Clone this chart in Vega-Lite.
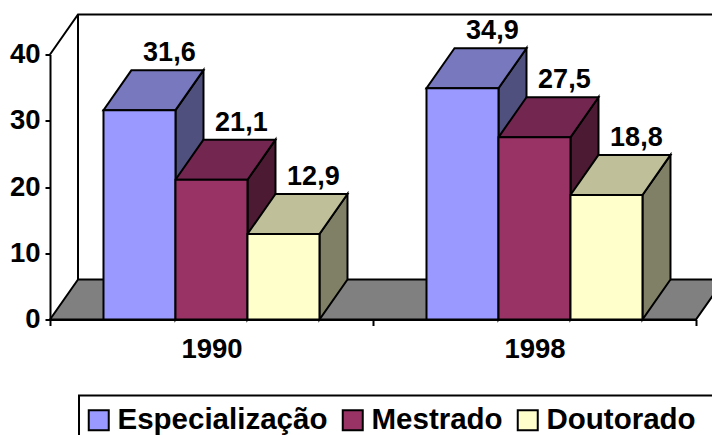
{
  "$schema": "https://vega.github.io/schema/vega-lite/v6.json",
  "width": 646,
  "height": 265,
  "autosize": {"type": "none"},
  "padding": {"left": 50, "top": 54.5, "right": 16, "bottom": 115.5},
  "background": "white",
  "config": {"view": {"stroke": null}, "font": "Liberation Sans"},
  "datasets": {
    "barras": [
      {"ano": "1990", "grupo": 0, "ordem": 0, "serie": "Especialização", "valor": 31.6},
      {"ano": "1990", "grupo": 0, "ordem": 1, "serie": "Mestrado", "valor": 21.1},
      {"ano": "1990", "grupo": 0, "ordem": 2, "serie": "Doutorado", "valor": 12.9},
      {"ano": "1998", "grupo": 1, "ordem": 0, "serie": "Especialização", "valor": 34.9},
      {"ano": "1998", "grupo": 1, "ordem": 1, "serie": "Mestrado", "valor": 27.5},
      {"ano": "1998", "grupo": 1, "ordem": 2, "serie": "Doutorado", "valor": 18.8}
    ],
    "chao": [
      {"py": 0, "x0": 0, "x1": 2},
      {"py": 6.04, "x0": 0.0867, "x1": 2.0867}
    ],
    "parede": [
      {"px": 0, "py": 40},
      {"px": 0.0867, "py": 46.04},
      {"px": 2.0867, "py": 46.04}
    ],
    "fundo": [
      {"px": 0.0867, "py": 46.04},
      {"px": 0.0867, "py": 6.04}
    ]
  },
  "layer": [
    {
      "data": {"name": "chao"},
      "mark": {"type": "area", "orient": "horizontal", "fill": "#808080", "stroke": "black", "strokeWidth": 2},
      "encoding": {
        "y": {"field": "py", "type": "quantitative", "scale": {"domain": [0, 40], "nice": false},
          "axis": {"title": null, "values": [0, 10, 20, 30, 40], "grid": false, "zindex": 1, "domainColor": "black", "domainWidth": 2, "tickColor": "black", "tickWidth": 2, "tickSize": 5, "labelFontSize": 27.5, "labelFontWeight": "bold", "labelColor": "black", "labelPadding": 5, "labelFont": "Liberation Sans"}},
        "x": {"field": "x0", "type": "quantitative", "scale": {"domain": [0, 2], "nice": false},
          "axis": {"title": null, "values": [0, 0.5, 1, 1.5, 2], "grid": false, "zindex": 1, "domainColor": "black", "domainWidth": 2, "tickColor": "black", "tickWidth": 2, "tickSize": 6, "tickOpacity": {"condition": {"test": "datum.value == 0.5 || datum.value == 1.5", "value": 0}, "value": 1}, "labelExpr": "datum.value == 0.5 ? '1990' : datum.value == 1.5 ? '1998' : ''", "labelFontSize": 27.5, "labelFontWeight": "bold", "labelColor": "black", "labelPadding": 10, "labelFont": "Liberation Sans", "labelOverlap": false, "labelFlush": false}},
        "x2": {"field": "x1"}
      }
    },
    {
      "data": {"name": "parede"},
      "mark": {"type": "line", "stroke": "black", "strokeWidth": 2},
      "encoding": {
        "x": {"field": "px", "type": "quantitative"},
        "y": {"field": "py", "type": "quantitative"}
      }
    },
    {
      "data": {"name": "fundo"},
      "mark": {"type": "line", "stroke": "black", "strokeWidth": 2},
      "encoding": {
        "x": {"field": "px", "type": "quantitative"},
        "y": {"field": "py", "type": "quantitative"}
      }
    },
    {
      "data": {"name": "barras"},
      "transform": [
        {"calculate": "datum.grupo + 0.1656 + datum.ordem * 0.2229", "as": "xe"},
        {"calculate": "datum.xe + 0.2229", "as": "xd"},
        {"calculate": "0", "as": "a"},
        {"calculate": "1", "as": "b"},
        {"fold": ["a", "b"], "as": ["k", "t"]},
        {"calculate": "datum.xd + datum.t * 0.0867", "as": "sx"},
        {"calculate": "datum.t * 6.04", "as": "sy0"},
        {"calculate": "datum.valor + datum.t * 6.04", "as": "sy1"}
      ],
      "mark": {"type": "area", "stroke": "black", "strokeWidth": 2},
      "encoding": {
        "x": {"field": "sx", "type": "quantitative"},
        "y": {"field": "sy1", "type": "quantitative", "stack": null},
        "y2": {"field": "sy0"},
        "detail": {"field": "ano"},
        "color": {"field": "serie", "type": "nominal", "legend": null, "scale": {"domain": ["Especialização", "Mestrado", "Doutorado"], "range": ["#50507F", "#4D1A33", "#808066"]}}
      }
    },
    {
      "data": {"name": "barras"},
      "transform": [
        {"calculate": "datum.grupo + 0.1656 + datum.ordem * 0.2229", "as": "xe"},
        {"calculate": "datum.xe + 0.2229", "as": "xd"},
        {"calculate": "0", "as": "a"},
        {"calculate": "1", "as": "b"},
        {"fold": ["a", "b"], "as": ["k", "t"]},
        {"calculate": "datum.xe + datum.t * 0.0867", "as": "tx0"},
        {"calculate": "datum.xd + datum.t * 0.0867", "as": "tx1"},
        {"calculate": "datum.valor + datum.t * 6.04", "as": "ty"}
      ],
      "mark": {"type": "area", "orient": "horizontal", "stroke": "black", "strokeWidth": 2},
      "encoding": {
        "y": {"field": "ty", "type": "quantitative"},
        "x": {"field": "tx0", "type": "quantitative", "stack": null},
        "x2": {"field": "tx1"},
        "detail": {"field": "ano"},
        "color": {"field": "serie", "type": "nominal", "legend": null, "scale": {"domain": ["Especialização", "Mestrado", "Doutorado"], "range": ["#7878BF", "#732650", "#BFBF99"]}}
      }
    },
    {
      "data": {"name": "barras"},
      "transform": [
        {"calculate": "datum.grupo + 0.1656 + datum.ordem * 0.2229", "as": "xe"},
        {"calculate": "datum.xe + 0.2229", "as": "xd"}
      ],
      "mark": {"type": "rect", "stroke": "black", "strokeWidth": 2},
      "encoding": {
        "x": {"field": "xe", "type": "quantitative"},
        "x2": {"field": "xd"},
        "y": {"field": "valor", "type": "quantitative"},
        "y2": {"datum": 0},
        "color": {"field": "serie", "type": "nominal",
          "scale": {"domain": ["Especialização", "Mestrado", "Doutorado"], "range": ["#9999FF", "#993366", "#FFFFCC"]},
          "legend": {"title": null, "orient": "none", "legendX": 34, "legendY": 350.5, "padding": 0, "direction": "horizontal", "symbolType": "square", "symbolSize": 400, "symbolStrokeColor": "black", "symbolStrokeWidth": 2, "labelFontSize": 29.5, "labelFontWeight": "bold", "labelColor": "black", "labelFont": "Liberation Sans", "columnPadding": 10, "labelOffset": 4, "labelLimit": 400, "values": ["Especialização", "Mestrado", "Doutorado"]}}
      }
    },
    {
      "data": {"values": [{"caixa": "legenda"}]},
      "mark": {"type": "rect", "fill": null, "stroke": "black", "strokeWidth": 2, "clip": false},
      "encoding": {
        "x": {"datum": 0.0898},
        "x2": {"datum": 2.2},
        "y": {"datum": -11.47},
        "y2": {"datum": -20}
      }
    },
    {
      "data": {"name": "barras"},
      "transform": [
        {"calculate": "datum.grupo + 0.1656 + datum.ordem * 0.2229 + 0.204", "as": "lx"},
        {"calculate": "datum.valor + 6.04", "as": "ly"},
        {"calculate": "replace(format(datum.valor, '.1f'), '.', ',')", "as": "rotulo"}
      ],
      "mark": {"type": "text", "fontSize": 27, "fontWeight": "bold", "color": "black", "baseline": "alphabetic", "align": "center", "dy": -9, "font": "Liberation Sans"},
      "encoding": {
        "x": {"field": "lx", "type": "quantitative"},
        "y": {"field": "ly", "type": "quantitative"},
        "text": {"field": "rotulo"}
      }
    }
  ],
  "resolve": {"scale": {"color": "independent"}}
}
